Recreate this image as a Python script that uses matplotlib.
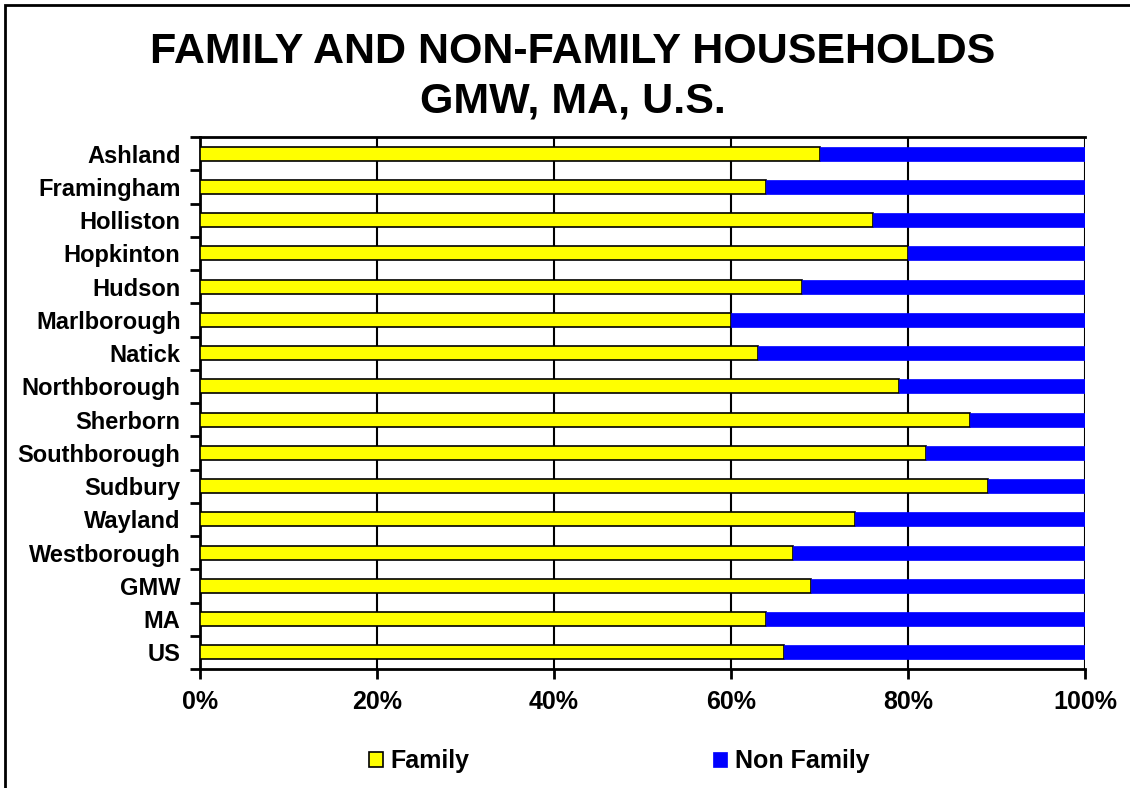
import matplotlib.pyplot as plt
import numpy as np
from matplotlib.patches import Rectangle

plt.rcParams['font.family'] = ['Liberation Sans', 'DejaVu Sans']

# Data (percent of households)
places = ['Ashland', 'Framingham', 'Holliston', 'Hopkinton', 'Hudson', 'Marlborough',
          'Natick', 'Northborough', 'Sherborn', 'Southborough', 'Sudbury', 'Wayland',
          'Westborough', 'GMW', 'MA', 'US']
family = [70, 64, 76, 80, 68, 60, 63, 79, 87, 82, 89, 74, 67, 69, 64, 66]
non_family = [100 - f for f in family]
x_ticks = [0, 20, 40, 60, 80, 100]

fig = plt.figure(figsize=(11.3, 7.88), dpi=100)
ax = fig.add_axes([200 / 1130, 1 - 669 / 788, 885 / 1130, 532 / 788])

y = np.arange(len(places))
ax.barh(y, family, height=0.42, color='#FFFF00', edgecolor='black', linewidth=1.2,
        label='Family', zorder=3)
ax.barh(y, non_family, left=family, height=0.42, color='#0000FF', edgecolor='#0000FF',
        linewidth=0.5, label='Non Family', zorder=3)

ax.set_ylim(len(places) - 0.5, -0.5)
ax.set_xlim(0, 100)
ax.set_yticks(y)
ax.set_yticklabels(places, fontsize=17, fontweight='bold')
ax.set_yticks(np.arange(len(places) + 1) - 0.5, minor=True)
ax.tick_params(axis='y', which='major', length=0, pad=14)
ax.tick_params(axis='y', which='minor', length=7, width=2, direction='out')
ax.set_xticks(x_ticks)
ax.set_xticklabels([f'{v}%' for v in x_ticks], fontsize=18, fontweight='bold')
ax.tick_params(axis='x', length=7, width=2, direction='out', pad=8)
ax.grid(axis='x', color='black', linewidth=1.5, zorder=0)
for s in ['left', 'bottom', 'top']:
    ax.spines[s].set_linewidth(2)
ax.spines['right'].set_visible(False)

fig.text(0.507, 1 - 77 / 788, 'FAMILY AND NON-FAMILY HOUSEHOLDS\nGMW, MA, U.S.',
         ha='center', va='center', fontsize=31, fontweight='bold', linespacing=1.3)

fig.legend(loc='center', bbox_to_anchor=(0.548, 1 - 761 / 788), ncol=2, frameon=False,
           prop={'size': 18, 'weight': 'bold'}, handlelength=0.55, handleheight=0.55,
           handletextpad=0.3, columnspacing=9.75)

# outer chart border
fig.patches.append(Rectangle((5 / 1130, -0.05), 1.1, 1 - 5 / 788 + 0.05,
                             transform=fig.transFigure, fill=False,
                             edgecolor='black', linewidth=2))

plt.savefig('out.png', dpi=100)
